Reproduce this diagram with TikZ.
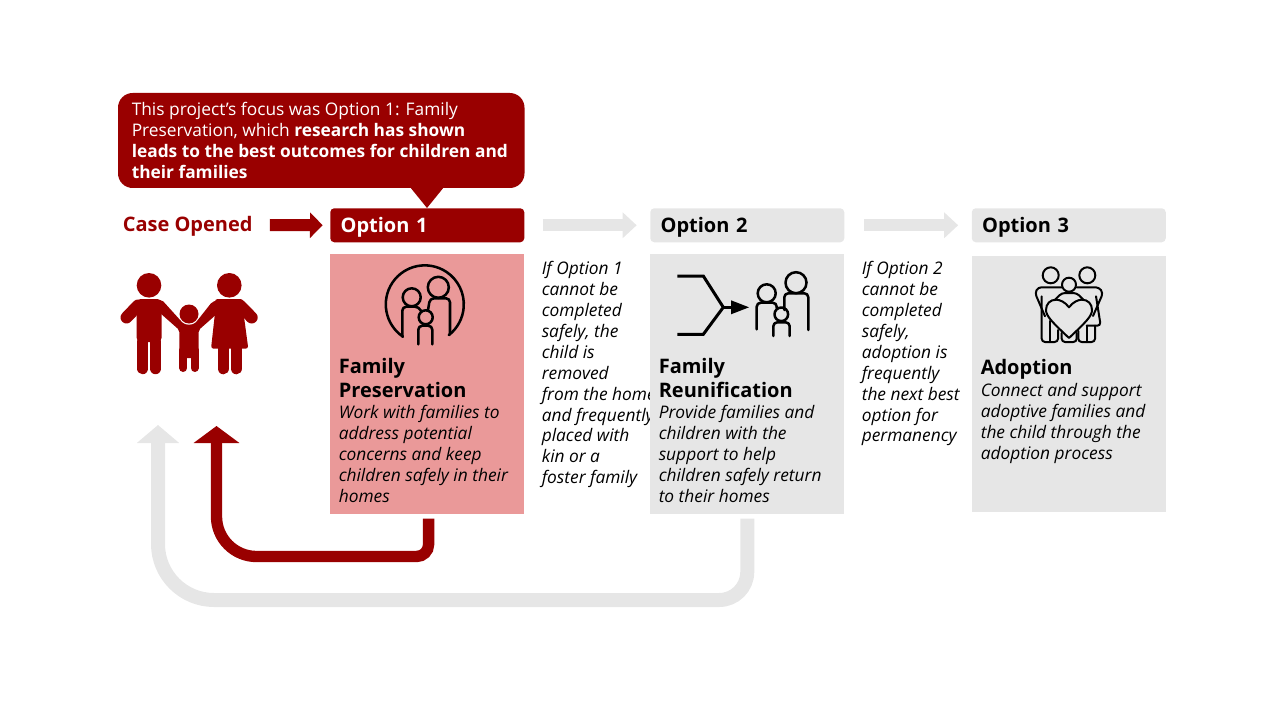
\documentclass[tikz,border=0pt]{standalone}
\usepackage{fontspec}
\setmainfont{Open Sans}
\usetikzlibrary{arrows.meta}
\definecolor{dkred}{HTML}{990000}
\definecolor{pinkbg}{HTML}{EA9999}
\definecolor{greybg}{HTML}{E6E6E6}
\tikzset{
  bodytext/.style={anchor=north west,inner sep=0pt,align=left,font=\fontsize{13}{15.7}\selectfont\itshape},
  titletext/.style={anchor=north west,inner sep=0pt,align=left,font=\fontsize{15}{18}\selectfont\bfseries},
  optbox/.style={anchor=north west,rounded corners=3pt,minimum height=25.5pt,text width=130pt,text height=10.6pt,text depth=0pt,inner xsep=7.75pt,inner ysep=0pt,align=left,font=\fontsize{15}{18}\selectfont\bfseries},
  panelbox/.style={anchor=north west,minimum width=145.5pt,inner sep=0pt},
  redblock/.style={draw=dkred,line width=9pt,-{Triangle[length=9.5pt,width=18.75pt]}},
  greyblock/.style={draw=greybg,line width=9pt,-{Triangle[length=10.5pt,width=18.75pt]}},
  redreturn/.style={draw=dkred,line width=8.5pt,-{Triangle[length=12.75pt,width=33.75pt]}},
  greyreturn/.style={draw=greybg,line width=10.5pt,-{Triangle[length=13.5pt,width=31pt]}},
  icon/.style={draw=black,line width=1.9pt,line cap=round,line join=round,rounded corners=3pt},
  iconthin/.style={draw=black,line width=1.5pt,line cap=round,line join=round,rounded corners=2.5pt},
  redlimb/.style={draw=dkred,line cap=round,line join=round}
}
\begin{document}
\begin{tikzpicture}[x=0.75pt,y=-0.75pt]
\useasboundingbox (0,0) rectangle (1280,720);

% side texts are overlapped by the boxes that follow
\node[bodytext] (side1) at (541.5,261) {If Option 1\\cannot be\\completed\\safely, the\\child is\\removed\\from the home\\and frequently\\placed with\\kin or a\\foster family};
\node[bodytext] (side2) at (861.5,261) {If Option 2\\cannot be\\completed\\safely,\\adoption is\\frequently\\the next best\\option for\\permanency};

% callout
\fill[dkred,rounded corners=11pt] (118,93) rectangle (524.5,188);
\fill[dkred] (410,187) -- (444,187) -- (427,208) -- cycle;
\node[anchor=north west,inner sep=0pt,align=left,text=white,font=\fontsize{13}{15.75}\selectfont] (callout) at (131.5,102)
 {This project’s focus was Option 1: Family\\Preservation, which \textbf{research has shown}\\\textbf{leads to the best outcomes for children and}\\\textbf{their families}};

% header row
\node[anchor=west,inner sep=0pt,text height=9.4pt,text depth=0pt,text=dkred,font=\fontsize{15}{18}\selectfont\bfseries] (caseopened) at (122.5,225) {Case Opened};
\node[optbox,fill=dkred,text=white] (opt1) at (330,208) {Option 1};
\node[optbox,fill=greybg,text=black] (opt2) at (650,208) {Option 2};
\node[optbox,fill=greybg,text=black] (opt3) at (971.5,208) {Option 3};

% panels
\node[panelbox,fill=pinkbg,minimum height=195pt] (p1) at (330,254) {};
\node[panelbox,fill=greybg,minimum height=195pt] (p2) at (650,254) {};
\node[panelbox,fill=greybg,minimum height=192pt] (p3) at (971.5,256) {};

\node[titletext] (t1) at (338.5,358) {Family\\Preservation};
\node[bodytext] (b1) at (338.5,405) {Work with families to\\address potential\\concerns and keep\\children safely in their\\homes};
\node[titletext] (t2) at (658.5,358) {Family\\Reunification};
\node[bodytext] (b2) at (658.5,405) {Provide families and\\children with the\\support to help\\children safely return\\to their homes};
\node[titletext] (t3) at (980.5,359) {Adoption};
\node[bodytext] (b3) at (980.5,383) {Connect and support\\adoptive families and\\the child through the\\adoption process};

% block arrows
\draw[redblock] ([xshift=12.75pt]caseopened.east) -- ([xshift=-5.5pt]opt1.west);
\draw[greyblock] ([xshift=13.5pt]opt1.east) -- ([xshift=-10pt]opt2.west);
\draw[greyblock] ([xshift=14.5pt]opt2.east) -- ([xshift=-10pt]opt3.west);

% return arrows
\coordinate (redend) at (216.5,426);
\coordinate (greyend) at (158,425);
\draw[greyreturn] ([yshift=-3pt]p2.south) [rounded corners=21pt] |- (300,600) [rounded corners=42pt] -| (greyend);
\draw[redreturn] ([xshift=1pt,yshift=-3pt]p1.south) [rounded corners=9pt] |- (300,556.5) [rounded corners=30pt] -| (redend);

% red family
\fill[dkred] (149,285.3) circle[radius=12.3];
\fill[dkred] (229.3,285.3) circle[radius=12.3];
\fill[dkred] (189,314) circle[radius=9.5];
\fill[dkred,rounded corners=3pt] (136.7,299) -- (161.5,299) -- (161.5,342) -- (136.7,342) -- cycle;
\draw[redlimb,line width=8.6pt] (142.7,342) -- (142.7,368.5) (155.5,342) -- (155.5,368.5);
\fill[dkred] (144.5,335) rectangle (154,339);
\draw[redlimb,line width=9pt] (138,305.5) -- (126.5,317.5);
\fill[dkred,rounded corners=1.5pt] (158,300) -- (162,300) -- (181,321) .. controls (185,325.5) and (193,325.5) .. (197,321) -- (212,302) -- (218,300) -- (218,313) -- (198.7,330) -- (198.7,358) -- (179.3,358) -- (179.3,330) -- (160,313) -- cycle;
\draw[redlimb,line width=6pt] (183.3,350) -- (183.3,368) (194.7,350) -- (194.7,368);
\fill[dkred,rounded corners=2pt] (215,299) -- (243,299) -- (243.5,313) -- (248.3,348.7) -- (211,348.7) -- (215,313) -- cycle;
\draw[redlimb,line width=8.7pt] (223.3,345) -- (223.3,368.5) (236.3,345) -- (236.3,368.5);
\draw[redlimb,line width=9pt] (240,305.5) -- (251.7,317.5);

% family preservation icon
\draw[icon,rounded corners=0pt] (403,336.7) arc[start angle=124,end angle=412,radius=39];
\draw[icon] (438.3,287.3) circle[radius=10.5];
\draw[icon] (428,310) -- (430,298.3) -- (450,298.3) -- (450,334);
\draw[icon] (411.7,297.3) circle[radius=9];
\draw[icon] (402.3,336.7) -- (402.3,306.7) -- (419,306.7) -- (421,311);
\draw[icon] (425.7,317.3) circle[radius=7];
\draw[icon] (418.3,344.3) -- (418.3,325.7) -- (432.3,325.7) -- (432.3,344.3);

% family reunification icon
\draw[draw=black,line width=2.25pt,line join=miter] (677.3,276) -- (703.3,276) -- (723.3,307.3) -- (703.3,334.3) -- (677.3,334.3);
\draw[draw=black,line width=2pt] (723.3,307.3) -- (732,307.3);
\fill[black] (731,300.3) -- (749,307.3) -- (731,314.3) -- cycle;
\draw[icon] (796,282.7) circle[radius=10.5];
\draw[icon] (784.3,310) -- (784.3,293.3) -- (808.3,293.3) -- (808.3,330);
\draw[icon] (766.7,293.3) circle[radius=9];
\draw[icon] (756.7,329.3) -- (756.7,302.7) -- (776.7,302.7) -- (776.7,308);
\draw[icon] (781.3,314.3) circle[radius=6.8];
\draw[icon] (773.3,336) -- (773.3,322.3) -- (789.7,322.3) -- (789.7,336);

% adoption icon
\draw[iconthin] (1050.7,275.3) circle[radius=8];
\draw[iconthin] (1087.3,275.3) circle[radius=8];
\draw[iconthin] (1069,284.7) circle[radius=7];
\draw[iconthin,fill=none] (1045,316.3) -- (1035,293) -- (1038,287.3) -- (1061.7,287.3);
\draw[iconthin] (1041.7,296.3) -- (1041.7,342) -- (1058,342) -- (1058,330);
\draw[iconthin] (1050,321) -- (1050,342);
\draw[iconthin] (1093,316) -- (1103,293) -- (1099,287.3) -- (1076.7,287.3);
\draw[iconthin] (1096,296.3) -- (1100.7,325.7) -- (1086.7,325.7);
\draw[iconthin] (1095,325.7) -- (1095,342) -- (1078.3,342) -- (1078.3,331);
\draw[iconthin] (1086.7,325.7) -- (1086.7,342);
\draw[iconthin] (1055,299.7) -- (1061.7,293) -- (1076.7,293) -- (1083.3,299.7);
\draw[iconthin] (1061.7,333) -- (1061.7,342) -- (1076.7,342) -- (1076.7,333);
\draw[iconthin,rounded corners=0pt] (1069,307.3) .. controls (1065,302) and (1060,299.7) .. (1056,299.7) .. controls (1050,299.7) and (1046,304) .. (1046,310) .. controls (1046,316) and (1052,322) .. (1069,338) .. controls (1086,322) and (1092,316) .. (1092,310) .. controls (1092,304) and (1088,299.7) .. (1082,299.7) .. controls (1078,299.7) and (1073,302) .. (1069,307.3) -- cycle;
\end{tikzpicture}
\end{document}
